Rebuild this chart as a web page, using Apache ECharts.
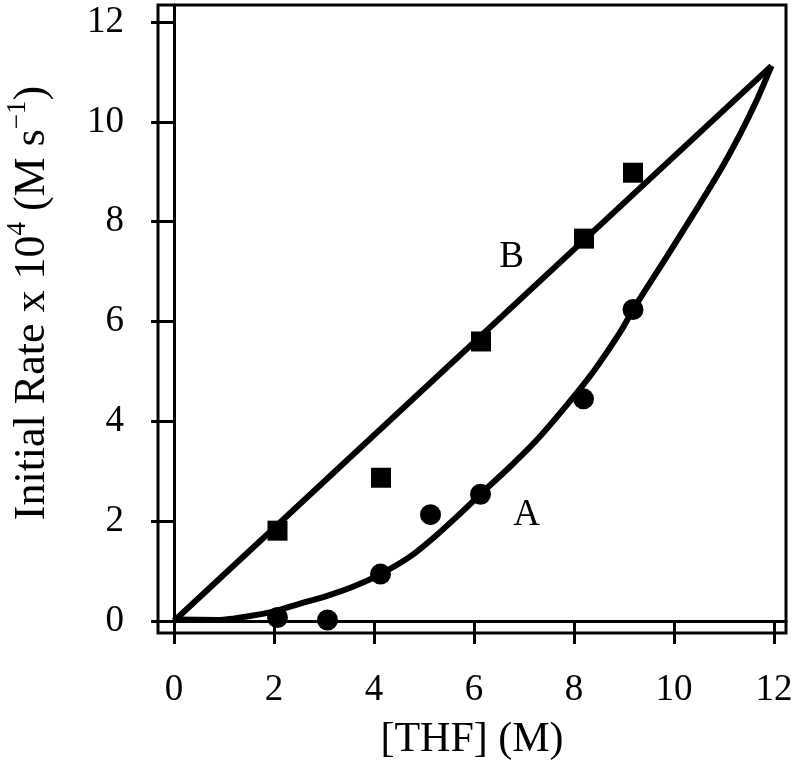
<!DOCTYPE html>
<html><head><meta charset="utf-8">
<script src="https://cdn.jsdelivr.net/npm/echarts@6/dist/echarts.min.js"></script>
<style>html,body{margin:0;padding:0;background:#fff}#c{width:792px;height:764px}</style>
</head><body><div id="c"></div>
<script>
// ---- data ----
const xTicks = [0, 2, 4, 6, 8, 10, 12];
const yTicks = [0, 2, 4, 6, 8, 10, 12];

const squaresB_x = [2.07, 4.14, 6.14, 8.20, 9.18];
const squaresB_y = [1.81, 2.87, 5.60, 7.66, 8.98];

const circlesA_x = [2.07, 3.07, 4.13, 5.13, 6.13, 8.19, 9.18];
const circlesA_y = [0.07, 0.02, 0.94, 2.13, 2.54, 4.45, 6.24];

const fitB_x = [0, 11.95];
const fitB_y = [0, 11.12];

const fitA_x = [0.02, 0.89, 1.52, 2.07, 2.52, 3.05, 3.59, 4.13, 4.72, 5.25, 5.72, 6.13, 6.72, 7.25, 7.85, 8.39, 8.92, 9.19, 9.85, 10.39, 10.92, 11.32, 11.65, 11.95];
const fitA_y = [0.03, 0.02, 0.10, 0.21, 0.35, 0.50, 0.69, 0.94, 1.29, 1.72, 2.15, 2.54, 3.09, 3.62, 4.32, 5.00, 5.78, 6.25, 7.29, 8.15, 9.02, 9.75, 10.42, 11.12];

const curveNames = ['A', 'B'];
const curveName_x = [7.05, 6.75];
const curveName_y = [2.12, 7.29];

const xTitle = '[THF] (M)';
const yTitleParts = ['Initial Rate x 10', '4', ' (M s', '\u22121', ')'];

// ---- build ----
const FONT = "'Liberation Serif', 'Times New Roman', serif";
const zip = (a, b) => a.map((v, i) => [v, b[i]]);

const chart = echarts.init(document.getElementById('c'), null, {renderer: 'canvas'});
const axisCommon = {
  type: 'value',
  axisLine: {show: true, lineStyle: {color: '#000', width: 3}},
  axisTick: {show: true, inside: false, length: 23, lineStyle: {color: '#000', width: 3}},
  splitLine: {show: false},
  nameLocation: 'middle'
};
chart.setOption({
  animation: false,
  backgroundColor: '#fff',
  grid: {left: 158, right: 6, top: 5, bottom: 131, show: true, borderColor: '#000', borderWidth: 3,
         containLabel: false, outerBoundsMode: 'none'},
  xAxis: Object.assign({}, axisCommon, {
    min: -0.32, max: 12.24,
    axisTick: Object.assign({}, axisCommon.axisTick, {customValues: xTicks}),
    axisLabel: {customValues: xTicks, margin: 39, fontSize: 37, fontFamily: FONT, color: '#000'},
    name: xTitle, nameGap: 86,
    nameTextStyle: {fontSize: 42, fontFamily: FONT, color: '#000'}
  }),
  yAxis: Object.assign({}, axisCommon, {
    min: -0.24, max: 12.34,
    axisTick: Object.assign({}, axisCommon.axisTick, {customValues: yTicks}),
    axisLabel: {customValues: yTicks, margin: 34, fontSize: 37, fontFamily: FONT, color: '#000'},
    name: '{n|' + yTitleParts[0] + '}{s|' + yTitleParts[1] + '}{n|' + yTitleParts[2] + '}{s|' + yTitleParts[3] + '}{n|' + yTitleParts[4] + '}',
    nameRotate: 90, nameGap: 104,
    nameTextStyle: {
      fontSize: 44, fontFamily: FONT, color: '#000', padding: [0, 0, 0, 32],
      rich: {
        n: {fontSize: 44, fontFamily: FONT, color: '#000', verticalAlign: 'bottom'},
        s: {fontSize: 27, fontFamily: FONT, color: '#000', verticalAlign: 'top', lineHeight: 50}
      }
    }
  }),
  series: [
    {type: 'line', data: zip(fitB_x, fitB_y), showSymbol: false, symbol: 'none', lineStyle: {color: '#000', width: 6}, z: 2},
    {type: 'line', data: zip(fitA_x, fitA_y), showSymbol: false, symbol: 'none', smooth: 0.25, lineStyle: {color: '#000', width: 6}, z: 2},
    {type: 'scatter', data: zip(squaresB_x, squaresB_y), symbol: 'rect', symbolSize: 20, itemStyle: {color: '#000', opacity: 1}, z: 3},
    {type: 'scatter', data: zip(circlesA_x, circlesA_y), symbol: 'circle', symbolSize: 21, itemStyle: {color: '#000', opacity: 1}, z: 3},
    {type: 'scatter', symbolSize: 1, itemStyle: {color: 'rgba(0,0,0,0)', opacity: 1},
     data: curveNames.map((n, i) => ({value: [curveName_x[i], curveName_y[i]], name: n})),
     label: {show: true, position: 'inside', formatter: p => p.name, fontSize: 37, fontFamily: FONT, color: '#000', opacity: 1}, z: 4}
  ]
});
</script></body></html>
